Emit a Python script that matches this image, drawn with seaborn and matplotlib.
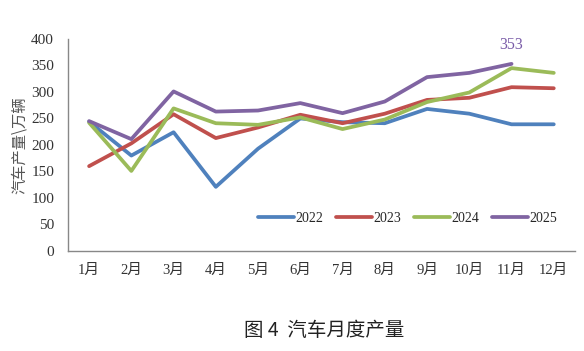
import numpy as np
import pandas as pd
import seaborn as sns
import matplotlib.pyplot as plt

# 数据（读图估计，单位：万辆）
months = ['1月', '2月', '3月', '4月', '5月', '6月', '7月', '8月', '9月', '10月', '11月', '12月']
years = ['2022', '2023', '2024', '2025']
v2022 = [244, 180, 224, 121, 193, 250, 243, 241, 268, 259, 239, 239]
v2023 = [160, 203, 258, 213, 233, 257, 241, 259, 285, 289, 309, 307]
v2024 = [242, 151, 269, 241, 238, 252, 230, 248, 281, 299, 345, 336]
v2025 = [245, 211, 301, 263, 265, 279, 260, 282, 328, 336, 353, None]
colors = ['#4F81BD', '#C0504D', '#9BBB59', '#8064A2']

sns.set_theme(style='white')
plt.rcParams['font.family'] = ['Liberation Serif', 'Noto Sans CJK SC', 'DejaVu Sans']

rows = []
for y, vals in zip(years, [v2022, v2023, v2024, v2025]):
    for i, v in enumerate(vals):
        if v is not None:
            rows.append({'idx': i, 'val': v, 'year': y})
df = pd.DataFrame(rows)

fig = plt.figure(figsize=(5.84, 3.51), dpi=100)
ax = fig.add_axes([0.1164, 0.285, 0.868, 0.604])

sns.lineplot(data=df, x='idx', y='val', hue='year', palette=colors,
             linewidth=2.7, ax=ax, legend=True)

# 标注 11月 2025
ax.annotate('353', xy=(10, 353), xytext=(0, 8), textcoords='offset points',
            ha='center', va='bottom', fontsize=11.5, color='#7A5CA8')

ax.set_xlim(-0.5, 11.5)
ax.set_ylim(0, 400)
ax.set_yticks(np.arange(0, 401, 50))
ax.set_xticks(range(12))
ax.set_xticklabels(months)
ax.set_xticks(np.arange(-0.5, 12, 1), minor=True)
ax.tick_params(axis='x', which='major', length=0, pad=9, labelsize=10.5, labelcolor='#333333')
ax.tick_params(axis='x', which='minor', length=4, color='#888888', direction='out')
ax.tick_params(axis='y', length=4, color='#888888', direction='out', labelsize=11,
               labelcolor='#333333', pad=6)

for s in ['top', 'right']:
    ax.spines[s].set_visible(False)
for s in ['left', 'bottom']:
    ax.spines[s].set_color('#888888')
    ax.spines[s].set_linewidth(1.0)

ax.set_xlabel('')
ax.set_ylabel('汽车产量\\万辆', fontsize=11, color='#555555', labelpad=2,
              family=['Noto Sans CJK SC', 'DejaVu Sans'])

leg = ax.legend(title=None, ncol=4, frameon=False, loc='center',
                bbox_to_anchor=(0.67, 0.155), fontsize=10, handlelength=2.6,
                columnspacing=0.9, handletextpad=0.1)
for line in leg.get_lines():
    line.set_linewidth(2.7)

fig.text(0.555, 0.058, '图 4  汽车月度产量', ha='center', va='center', fontsize=14,
         color='#222222', family=['Noto Sans CJK SC', 'DejaVu Sans'])

fig.savefig('out.png', dpi=100)
